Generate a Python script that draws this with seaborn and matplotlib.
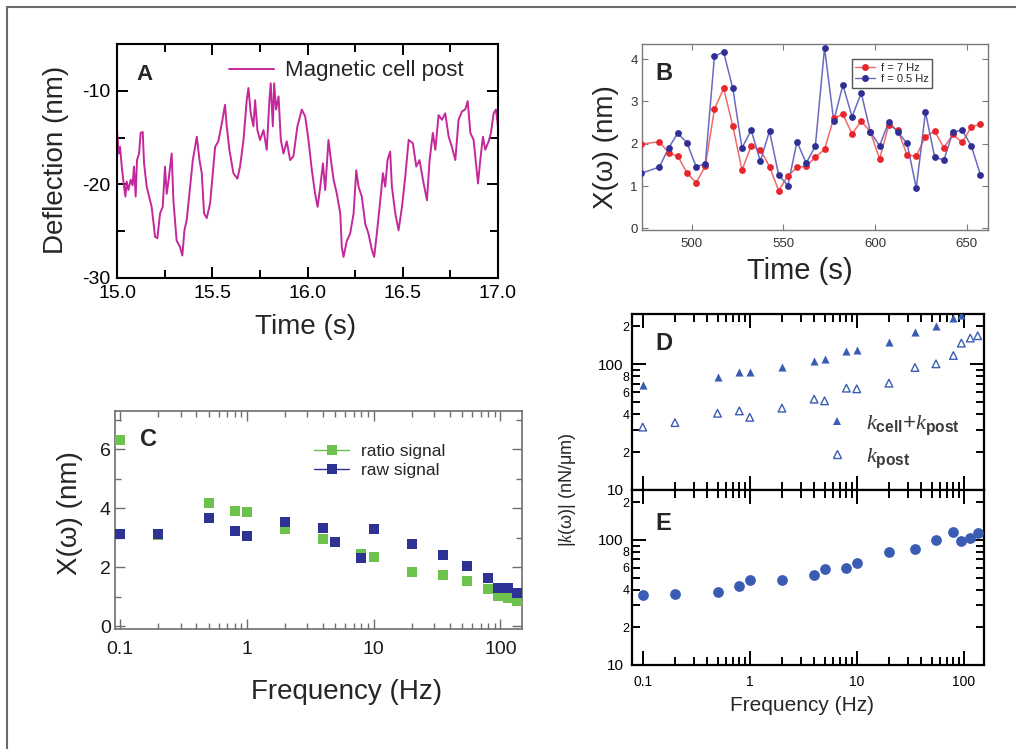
import numpy as np
import pandas as pd
import matplotlib
matplotlib.use("Agg")
import matplotlib.pyplot as plt
import seaborn as sns
from matplotlib.ticker import FixedLocator, FuncFormatter, NullFormatter, MultipleLocator
from matplotlib.lines import Line2D

sns.set_theme(style="ticks")
plt.rcParams["font.family"] = ["Liberation Sans", "DejaVu Sans"]
plt.rcParams["axes.unicode_minus"] = False
plt.rcParams["mathtext.fontset"] = "custom"
plt.rcParams["mathtext.it"] = "Liberation Serif:italic"
plt.rcParams["mathtext.rm"] = "Liberation Sans"
plt.rcParams["mathtext.bf"] = "Liberation Sans:bold"

# ---------------- data ----------------
# A: deflection trace of the magnetic cell post
trace_time = [
    15.000, 15.009, 15.016, 15.025, 15.037, 15.044, 15.051, 15.060, 15.072, 15.082,
    15.089, 15.098, 15.105, 15.116, 15.124, 15.135, 15.142, 15.156, 15.182, 15.200,
    15.212, 15.226, 15.240, 15.252, 15.261, 15.271, 15.287, 15.296, 15.313, 15.331,
    15.343, 15.354, 15.366, 15.384, 15.398, 15.419, 15.433, 15.445, 15.457, 15.471,
    15.489, 15.506, 15.515, 15.532, 15.550, 15.567, 15.576, 15.590, 15.611, 15.632,
    15.646, 15.664, 15.681, 15.690, 15.702, 15.716, 15.725, 15.737, 15.751, 15.769,
    15.786, 15.800, 15.807, 15.818, 15.825, 15.835, 15.848, 15.860, 15.874, 15.891,
    15.909, 15.926, 15.947, 15.970, 15.988, 16.005, 16.023, 16.040, 16.053, 16.067,
    16.081, 16.093, 16.110, 16.123, 16.137, 16.154, 16.172, 16.180, 16.189, 16.207,
    16.224, 16.242, 16.256, 16.268, 16.285, 16.303, 16.320, 16.338, 16.350, 16.364,
    16.382, 16.396, 16.408, 16.420, 16.434, 16.443, 16.461, 16.478, 16.496, 16.513,
    16.531, 16.553, 16.571, 16.588, 16.606, 16.627, 16.641, 16.658, 16.671, 16.688,
    16.706, 16.723, 16.741, 16.758, 16.776, 16.793, 16.811, 16.828, 16.841, 16.855,
    16.872, 16.886, 16.895, 16.907, 16.921, 16.933, 16.951, 16.963, 16.977, 16.989,
    17.000,
]
trace_deflection = [
    -14.2, -16.7, -16.0, -18.1, -20.25, -21.3, -19.7, -20.6, -19.5, -20.1,
    -18.1, -21.3, -17.4, -16.7, -14.5, -14.4, -17.75, -20.25, -22.4, -25.6,
    -25.75, -23.1, -22.4, -18.1, -21.0, -19.5, -16.7, -21.7, -26.0, -26.7,
    -27.6, -24.9, -23.8, -20.25, -17.4, -14.9, -17.4, -18.8, -23.1, -23.6,
    -22.0, -18.1, -16.0, -15.4, -13.5, -11.5, -13.8, -16.3, -18.8, -19.4,
    -18.1, -15.25, -11.0, -9.7, -12.4, -13.8, -11.0, -14.2, -15.25, -14.2,
    -16.3, -11.0, -9.2, -13.8, -9.2, -12.0, -10.6, -15.25, -16.7, -15.4,
    -17.4, -17.0, -13.8, -12.0, -12.75, -15.25, -18.5, -21.0, -22.4, -20.25,
    -17.75, -20.6, -15.25, -17.4, -19.5, -21.0, -23.1, -26.7, -27.75, -26.0,
    -25.25, -23.1, -18.5, -20.25, -21.3, -24.2, -25.25, -27.0, -27.75, -25.25,
    -21.7, -18.8, -20.25, -17.4, -16.5, -20.25, -23.1, -24.9, -22.4, -19.2,
    -15.25, -15.6, -18.1, -17.4, -19.5, -21.7, -17.4, -14.5, -16.3, -12.6,
    -13.1, -12.4, -14.9, -16.0, -17.4, -13.1, -12.2, -12.0, -11.1, -14.5,
    -15.25, -18.1, -19.9, -17.4, -14.9, -16.3, -15.4, -14.5, -12.4, -12.0,
    -13.8,
]

# B: amplitude per time window at two driving frequencies
window_time = [472.5, 482.5, 487.5, 492.5, 497.5, 502.5, 507.5, 512.5, 517.5, 522.5,
               527.5, 532.5, 537.5, 542.5, 547.5, 552.5, 557.5, 562.5, 567.5, 572.5,
               577.5, 582.5, 587.5, 592.5, 597.5, 602.5, 607.5, 612.5, 617.5, 622.5,
               627.5, 632.5, 637.5, 642.5, 647.5, 652.5, 657.5]
amp_7hz = [1.99, 2.05, 1.78, 1.71, 1.31, 1.08, 1.47, 2.82, 3.31, 2.42,
           1.38, 1.94, 1.86, 1.46, 0.89, 1.24, 1.44, 1.47, 1.68, 1.87,
           2.60, 2.70, 2.23, 2.54, 2.28, 1.64, 2.44, 2.32, 1.73, 1.71,
           2.17, 2.30, 1.91, 2.22, 2.03, 2.40, 2.46]
amp_05hz = [1.30, 1.45, 1.90, 2.25, 2.02, 1.46, 1.52, 4.07, 4.17, 3.31,
            1.90, 2.32, 1.59, 2.30, 1.26, 1.01, 2.05, 1.54, 1.95, 4.27,
            2.54, 3.39, 2.64, 3.20, 2.28, 1.95, 2.52, 2.27, 2.01, 0.95,
            2.75, 1.69, 1.61, 2.28, 2.32, 1.95, 1.26]

# C, D, E: frequency sweep
freq = [0.1, 0.2, 0.5, 0.8, 1, 2, 4, 5, 8, 10, 20, 35, 55, 80, 95, 115, 135]
ratio_signal = [6.33, 3.10, 4.18, 3.90, 3.88, 3.28, 2.94, 2.86, 2.44, 2.35,
                1.84, 1.73, 1.53, 1.25, 1.03, 0.94, 0.86]
raw_signal = [3.14, 3.12, 3.67, 3.23, 3.07, 3.54, 3.33, 2.84, 2.32, 3.29,
              2.80, 2.41, 2.05, 1.64, 1.28, 1.28, 1.11]

freq_total = [0.1, 0.5, 0.8, 1, 2, 4, 5, 8, 10, 20, 35, 55, 80, 95]
k_total = [68.4, 79.6, 85.8, 85.8, 94.6, 106.2, 110.2, 126, 130, 150, 180.7, 201.8, 232.5, 246.7]
k_post = [31.6, 34.3, 40.7, 42.5, 37.8, 44.7, 52.7, 51.1, 64.4, 63.6,
          70.6, 94.0, 100.5, 117, 146.8, 161, 168]
k_cell = [36.5, 36.9, 38.6, 42.5, 47.4, 48.1, 52.3, 58.3, 59.8, 65.2,
          79.3, 84.8, 99.3, 115, 97.5, 103.7, 114.3]

# ---------------- styling ----------------
MAGENTA = "#c4289a"
RED = "#e8262e"
RED_LINE = "#ef6a6a"
NAVY = "#2f2f96"
NAVY_LINE = "#6a6ac0"
GREEN = "#6cc24a"
DKBLUE = "#2d3294"
KBLUE = "#3a5cb2"

W, H = 1016, 749
fig = plt.figure(figsize=(W / 100, H / 100), dpi=100)
fig.patch.set_facecolor("white")


def add_axes(l, t, r, b):
    return fig.add_axes([l / W, 1 - b / H, (r - l) / W, (b - t) / H])


def spines(ax, color, lw):
    for s in ax.spines.values():
        s.set_visible(True)
        s.set_color(color)
        s.set_linewidth(lw)


def decade_label(v, pos):
    return {0.1: "0.1", 1: "1", 10: "10", 100: "100"}.get(round(v, 3), "")


axA = add_axes(117, 44, 498, 278)
axB = add_axes(642, 44, 988, 230)
axC = add_axes(115, 411, 522, 629)
axD = add_axes(632, 314, 984, 490)
axE = add_axes(632, 490, 984, 665)

# ---------------- A ----------------
dfA = pd.DataFrame({"t": trace_time, "d": trace_deflection})
sns.lineplot(data=dfA, x="t", y="d", ax=axA, color=MAGENTA, linewidth=1.4,
             sort=False, estimator=None, label="Magnetic cell post")
axA.set_xlim(15, 17)
axA.set_ylim(-30, -5)
axA.xaxis.set_major_locator(FixedLocator([15.0, 15.5, 16.0, 16.5, 17.0]))
axA.xaxis.set_major_formatter(FuncFormatter(lambda v, p: f"{v:.1f}"))
axA.xaxis.set_minor_locator(MultipleLocator(0.25))
axA.yaxis.set_major_locator(FixedLocator([-30, -20, -10]))
axA.yaxis.set_minor_locator(FixedLocator([-25, -15]))
spines(axA, "black", 1.5)
axA.tick_params(which="both", direction="in", top=True, right=True, width=1.4,
                colors="black", labelsize=14)
axA.tick_params(which="major", length=8, pad=5)
axA.tick_params(which="minor", length=6)
axA.set_xlabel("Time (s)", fontsize=20, va="center")
axA.set_ylabel("Deflection (nm)", fontsize=20, va="center")
axA.xaxis.set_label_coords(0.496, -0.209)
axA.yaxis.set_label_coords(-0.159, 0.504)
axA.legend(loc="center left", bbox_to_anchor=(0.295, 0.885), frameon=False,
           fontsize=16, handlelength=2.0, handletextpad=0.5, borderaxespad=0,
           borderpad=0)
axA.text(0.052, 0.87, "A", transform=axA.transAxes, fontsize=16,
         fontweight="bold", va="center", ha="left")

# ---------------- B ----------------
sns.lineplot(x=window_time, y=amp_7hz, ax=axB, color=RED_LINE, linewidth=1.1,
             sort=False, estimator=None)
sns.scatterplot(x=window_time, y=amp_7hz, ax=axB, color=RED, s=24, linewidth=0,
                zorder=3)
sns.lineplot(x=window_time, y=amp_05hz, ax=axB, color=NAVY_LINE, linewidth=1.1,
             sort=False, estimator=None)
sns.scatterplot(x=window_time, y=amp_05hz, ax=axB, color=NAVY, s=24, linewidth=0,
                zorder=4)
axB.set_xlim(473, 661.6)
axB.set_ylim(-0.04, 4.36)
axB.xaxis.set_major_locator(FixedLocator([500, 550, 600, 650]))
axB.yaxis.set_major_locator(FixedLocator([0, 1, 2, 3, 4]))
spines(axB, "#7a7a7a", 1.0)
axB.tick_params(which="both", direction="in", top=True, right=True, length=4,
                width=0.8, colors="#7a7a7a", labelcolor="#333333", labelsize=9.5)
axB.tick_params(axis="x", pad=6)
axB.tick_params(axis="y", pad=3)
axB.set_xlabel("Time (s)", fontsize=21, va="center")
axB.set_ylabel("X(ω) (nm)", fontsize=20, va="center")
axB.xaxis.set_label_coords(0.457, -0.218)
axB.yaxis.set_label_coords(-0.105, 0.444)
hB = [Line2D([], [], color=RED_LINE, lw=1.0, marker="o", markersize=5,
             markerfacecolor=RED, markeredgewidth=0),
      Line2D([], [], color=NAVY_LINE, lw=1.0, marker="o", markersize=5,
             markerfacecolor=NAVY, markeredgewidth=0)]
legB = axB.legend(hB, ["f = 7 Hz", "f = 0.5 Hz"], loc="upper left",
                  bbox_to_anchor=(0.606, 0.918), borderaxespad=0, fontsize=8,
                  fancybox=False, handlelength=1.8, handletextpad=0.5,
                  borderpad=0.3, labelspacing=0.15, framealpha=1)
legB.get_frame().set_edgecolor("#555555")
legB.get_frame().set_linewidth(1.0)
axB.text(0.04, 0.839, "B", transform=axB.transAxes, fontsize=17,
         fontweight="bold", va="center", ha="left")

# ---------------- C ----------------
sns.scatterplot(x=freq, y=ratio_signal, ax=axC, color=GREEN, marker="s", s=48,
                linewidth=0, zorder=3)
sns.scatterplot(x=freq, y=raw_signal, ax=axC, color=DKBLUE, marker="s", s=48,
                linewidth=0, zorder=4)
axC.set_xscale("log")
axC.set_xlim(0.0913, 148)
axC.set_ylim(-0.1, 7.3)
axC.xaxis.set_major_locator(FixedLocator([0.1, 1, 10, 100]))
axC.xaxis.set_major_formatter(FuncFormatter(decade_label))
axC.xaxis.set_minor_locator(FixedLocator(
    [m * d for d in (0.1, 1, 10) for m in range(2, 10)] + [200]))
axC.xaxis.set_minor_formatter(NullFormatter())
axC.yaxis.set_major_locator(FixedLocator([0, 2, 4, 6]))
axC.yaxis.set_minor_locator(FixedLocator([1, 3, 5, 7]))
spines(axC, "#6e6e6e", 1.2)
axC.tick_params(which="both", direction="in", top=True, right=True, width=1.0,
                colors="#6e6e6e", labelcolor="#1a1a1a", labelsize=14)
axC.tick_params(which="major", length=7)
axC.tick_params(which="minor", length=4)
axC.tick_params(axis="x", pad=9)
axC.tick_params(axis="y", pad=3)
axC.set_xlabel("Frequency (Hz)", fontsize=20, va="center")
axC.set_ylabel("X(ω) (nm)", fontsize=20, va="center")
axC.xaxis.set_label_coords(0.569, -0.291)
axC.yaxis.set_label_coords(-0.111, 0.534)
hC = [Line2D([], [], color=GREEN, lw=1.0, marker="s", markersize=7,
             markeredgewidth=0),
      Line2D([], [], color=DKBLUE, lw=1.0, marker="s", markersize=7,
             markeredgewidth=0)]
axC.legend(hC, ["ratio signal", "raw signal"], loc="center left",
           bbox_to_anchor=(0.49, 0.771), frameon=False, fontsize=12.5,
           handlelength=2.0, handletextpad=0.7, labelspacing=0.25,
           borderaxespad=0, borderpad=0)
axC.text(0.061, 0.87, "C", transform=axC.transAxes, fontsize=17,
         fontweight="bold", va="center", ha="left")

# ---------------- D / E ----------------
sns.scatterplot(x=freq_total, y=k_total, ax=axD, color=KBLUE, marker="^", s=34,
                linewidth=0, zorder=3)
sns.scatterplot(x=freq, y=k_post, ax=axD, marker="^", s=30, facecolor="none",
                edgecolor=KBLUE, linewidth=1.0, zorder=3)
sns.scatterplot(x=freq, y=k_cell, ax=axE, color=KBLUE, marker="o", s=60,
                linewidth=0, zorder=3)

minor_k = {20: "2", 40: "4", 60: "6", 80: "8", 200: "2"}
for ax in (axD, axE):
    ax.set_xscale("log")
    ax.set_yscale("log")
    ax.set_xlim(0.0794, 154.6)
    ax.set_ylim(10, 250)
    ax.xaxis.set_major_locator(FixedLocator([0.1, 1, 10, 100]))
    ax.xaxis.set_minor_locator(FixedLocator(
        [m * d for d in (0.1, 1, 10) for m in range(2, 10)]))
    ax.xaxis.set_minor_formatter(NullFormatter())
    ax.yaxis.set_major_locator(FixedLocator([10, 100]))
    ax.yaxis.set_major_formatter(FuncFormatter(lambda v, p: f"{v:g}"))
    ax.yaxis.set_minor_locator(FixedLocator([20, 30, 40, 50, 60, 70, 80, 90, 200]))
    ax.yaxis.set_minor_formatter(FuncFormatter(
        lambda v, p: minor_k.get(int(round(v)), "")))
    spines(ax, "black", 1.6)
    ax.tick_params(which="both", direction="in", top=True, right=True,
                   width=1.4, colors="black")
    ax.tick_params(which="major", length=10)
    ax.tick_params(which="minor", length=6)
    ax.tick_params(axis="y", which="major", labelsize=11, pad=6)
    ax.tick_params(axis="y", which="minor", labelsize=9, pad=2)
    ax.set_xlabel("")
    ax.set_ylabel("")

axD.xaxis.set_major_formatter(NullFormatter())
axE.xaxis.set_major_formatter(FuncFormatter(decade_label))
axE.tick_params(axis="x", labelsize=10, pad=7)
axE.set_xlabel("Frequency (Hz)", fontsize=15, va="center")
axE.xaxis.set_label_coords(0.483, -0.234)

hD = [Line2D([], [], ls="none", marker="^", markersize=6, color=KBLUE,
             markeredgewidth=0),
      Line2D([], [], ls="none", marker="^", markersize=6, markerfacecolor="none",
             markeredgecolor=KBLUE, markeredgewidth=1.0)]
axD.legend(hD, [r"$k_{\mathbf{cell}}$+$k_{\mathbf{post}}$", r"$k_{\mathbf{post}}$"],
           loc="center left", bbox_to_anchor=(0.55, 0.275), frameon=False,
           fontsize=16, handlelength=1.0, handletextpad=0.8, labelspacing=0.4,
           borderaxespad=0, borderpad=0, labelcolor="#3a3a3a")
axD.text(0.066, 0.835, "D", transform=axD.transAxes, fontsize=17,
         fontweight="bold", va="center", ha="left")
axE.text(0.066, 0.808, "E", transform=axE.transAxes, fontsize=17,
         fontweight="bold", va="center", ha="left")
fig.text(568 / W, 1 - 490 / H, r"|$k$(ω)| (nN/μm)", rotation=90, fontsize=13,
         ha="center", va="center")

# frame around the figure
fig.add_artist(Line2D([7 / W, 1], [1 - 7 / H, 1 - 7 / H], transform=fig.transFigure,
                      color="#6a6a6a", lw=1.5))
fig.add_artist(Line2D([7 / W, 7 / W], [0, 1 - 7 / H], transform=fig.transFigure,
                      color="#6a6a6a", lw=1.5))

fig.savefig("out.png", dpi=100)
